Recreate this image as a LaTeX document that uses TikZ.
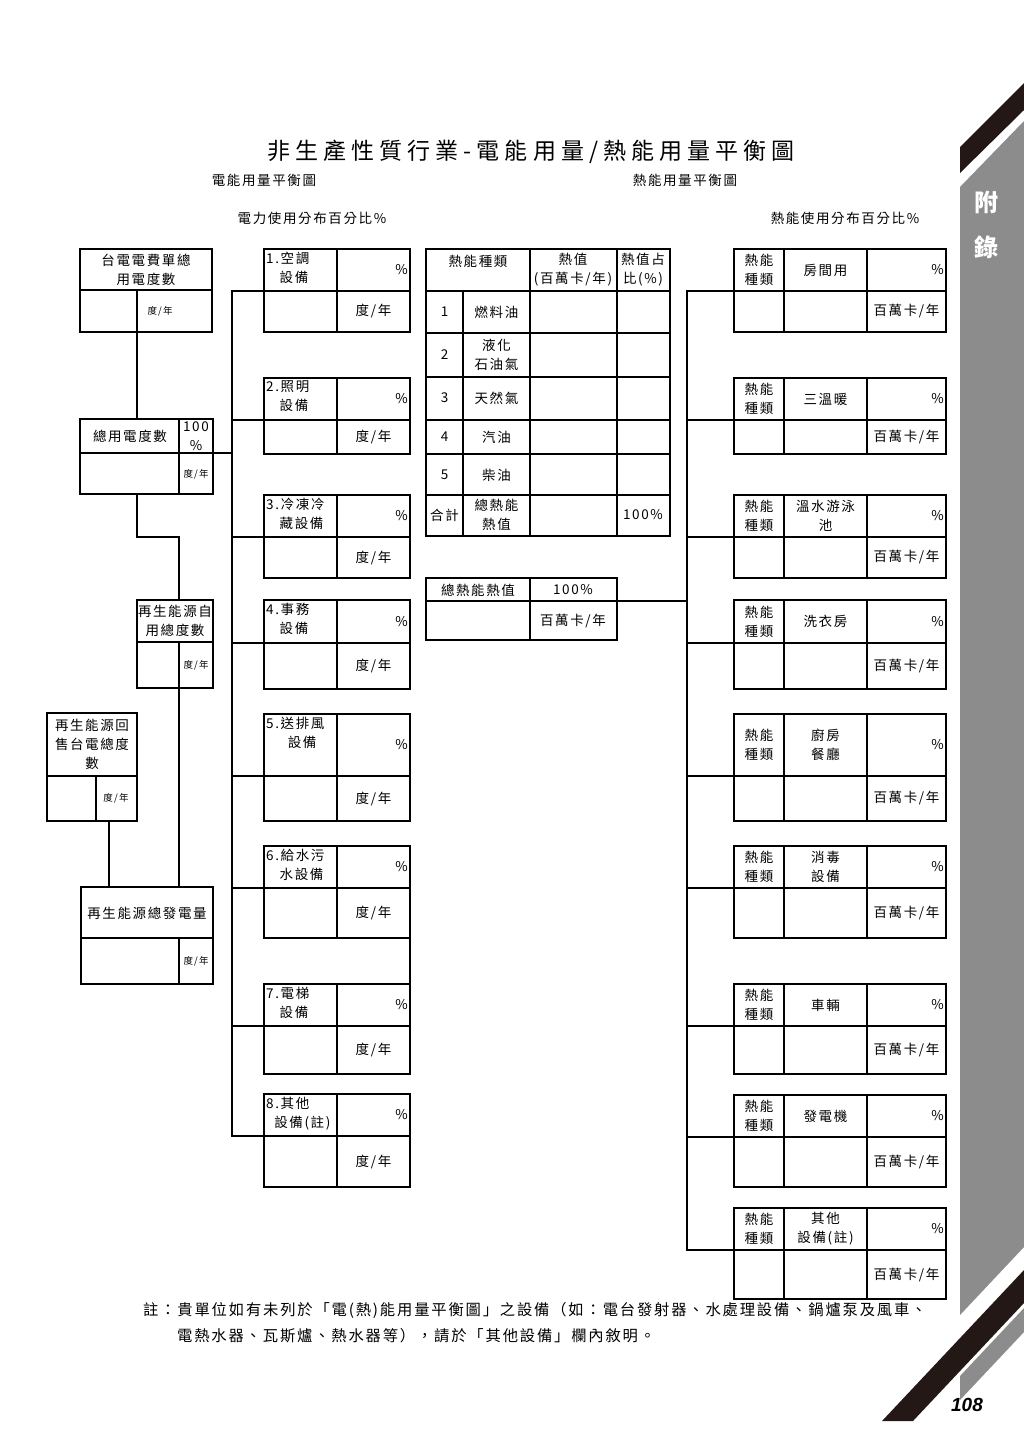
\documentclass[tikz,border=0pt]{standalone}
\usepackage{fontspec}
\setmainfont{Noto Sans CJK TC}[LetterSpace=12]
\newfontfamily\titlefont{Noto Sans CJK TC}[LetterSpace=22]
\newfontfamily\pagefont{Liberation Sans}
\definecolor{barGray}{HTML}{8C8C8C}
\definecolor{bandBlack}{HTML}{231815}
\begin{document}
\begin{tikzpicture}
[x=1pt,y=-1pt,
  boxLine/.style={line width=1.6pt},%
  thinBox/.style={line width=1.2pt},%
  darkLine/.style={line width=2.6pt,line cap=rect},%
  cellText/.style={font=\fontsize{13.5}{19}\selectfont,align=center,inner sep=0pt},%
  smallText/.style={font=\fontsize{9.5}{11}\selectfont,inner sep=0pt},%
  headText/.style={font=\fontsize{13.5}{16}\selectfont,inner sep=0pt}]
\useasboundingbox (0,0) rectangle (1024,1447);
%% page decoration
\fill[bandBlack] (960,147) -- (1024,83) -- (1024,110) -- (960,173) -- cycle;
\fill[barGray] (960,187) -- (1024,121) -- (1024,1247) -- (960,1315) -- cycle;
\fill[bandBlack] (882,1421) -- (913,1421) -- (1024,1303) -- (1024,1270) -- cycle;
\fill[barGray] (960,1376) -- (1024,1308) -- (1024,1332) -- (960,1400) -- cycle;
\node[font=\fontsize{24}{24}\selectfont\bfseries,text=white] (appxA) at (986,202) {附};
\node[font=\fontsize{24}{24}\selectfont\bfseries,text=white] (appxB) at (986,247) {錄};
\node[font=\pagefont\fontsize{19}{19}\selectfont\bfseries\itshape] (pageNo) at (967,1405) {108};
%% titles
\node[font=\titlefont\fontsize{23}{23}\selectfont] (title) at (531,152) {非生產性質行業-電能用量/熱能用量平衡圖};
\node[headText] (elecTitle) at (264,180) {電能用量平衡圖};
\node[headText] (heatTitle) at (685,180) {熱能用量平衡圖};
\node[headText] (elecShare) at (312,218) {電力使用分布百分比\%};
\node[headText] (heatShare) at (845,218) {熱能使用分布百分比\%};
%% meter boxes (left)
\draw[thinBox] (80,249) rectangle (212,332) (80,290) -- (212,290) (137,290) -- (137,332);
\node[cellText] (twBill) at (146,270) {台電電費單總\\用電度數};
\node[smallText] (twBillUnit) at (160,311) {度/年};
\coordinate (twBillOut) at (137,332);
\draw[thinBox] (80,419) rectangle (213,494) (80,453) -- (213,453) (179,419) -- (179,494);
\node[cellText] (total) at (130,436) {總用電度數};
\node[cellText] (totalPct) at (196,436) {100\\\%};
\node[smallText] (totalUnit) at (196,474) {度/年};
\coordinate (totalIn) at (137,419);
\coordinate (totalEast) at (213,453);
\coordinate (totalOut) at (137,494);
\draw[thinBox] (137,600) rectangle (213,688) (137,642) -- (213,642) (179,642) -- (179,688);
\node[cellText] (selfUse) at (175,621) {再生能源自\\用總度數};
\node[smallText] (selfUseUnit) at (196,665) {度/年};
\coordinate (selfUseIn) at (179,600);
\coordinate (selfUseOut) at (179,688);
\draw[thinBox] (47,713) rectangle (137,821) (47,776) -- (137,776) (96,776) -- (96,821);
\node[cellText] (sellBack) at (92,744) {再生能源回\\售台電總度\\數};
\node[smallText] (sellBackUnit) at (116,798) {度/年};
\coordinate (sellBackOut) at (109,821);
\draw[thinBox] (81,887) rectangle (213,984) (81,938) -- (213,938) (179,938) -- (179,984);
\node[cellText] (renewGen) at (147,913) {再生能源總發電量};
\node[smallText] (renewGenUnit) at (196,961) {度/年};
\coordinate (renewGenInA) at (179,887);
\coordinate (renewGenInB) at (109,887);
%% equipment boxes (electric)
\foreach \n/\yt/\ym/\yb/\lbl in {1/249/291/332/{1.空調\\\hspace*{1em}設備},
  2/378/420/454/{2.照明\\\hspace*{1em}設備}, 3/495/537/578/{3.冷凍冷\\\hspace*{1em}藏設備},
  4/600/643/689/{4.事務\\\hspace*{1em}設備}, 5/714/776/821/{5.送排風\\\hspace*{1.6em}設備},
  6/846/888/938/{6.給水污\\\hspace*{1em}水設備}, 7/984/1026/1074/{7.電梯\\\hspace*{1em}設備},
  8/1094/1136/1187/{8.其他\\\hspace*{0.6em}設備(註)}}
{
  \draw[boxLine] (264,\yt) rectangle (410,\yb) (264,\ym) -- (410,\ym) (337,\yt) -- (337,\yb);
  \node[cellText,align=left,anchor=north west] (equip\n) at (266,\yt+3) {\lbl};
  \node[cellText,anchor=east] (equipPct\n) at (408,{(\yt+\ym)/2}) {\%};
  \node[cellText] (equipUnit\n) at (373.5,{(\ym+\yb)/2}) {度/年};
  \coordinate (equipIn\n) at (264,\ym);
}
\draw[boxLine] (410,938) -- (410,984);
%% heat source table (middle)
\draw[thinBox] (426,249) rectangle (670,536);
\foreach \y in {291,333,377,420,454,495}
{
  \draw[thinBox] (426,\y) -- (670,\y);
}
\draw[thinBox] (463,291) -- (463,536) (530,249) -- (530,536) (617,249) -- (617,536);
\node[cellText] (fuelHead) at (478,261) {熱能種類};
\node[cellText] (valueHead) at (573,270) {熱值\\(百萬卡/年)};
\node[cellText] (shareHead) at (643,270) {熱值占\\比(\%)};
\foreach \n/\y/\lbl in {1/312/燃料油, 2/355/{液化\\石油氣}, 3/398/天然氣, 4/437/汽油, 5/475/柴油, 合計/515/{總熱能\\熱值}}
{
  \node[cellText] (fuelNo\n) at (444.5,\y) {\n};
  \node[cellText] (fuel\n) at (496.5,\y) {\lbl};
}
\node[cellText] (fuelTotalPct) at (643,515) {100\%};
\draw[thinBox] (426,578) rectangle (617,640) (426,601) -- (617,601) (530,578) -- (530,640);
\node[cellText] (heatTotal) at (478,590) {總熱能熱值};
\node[cellText] (heatTotalPct) at (573,590) {100\%};
\node[cellText] (heatTotalUnit) at (573,621) {百萬卡/年};
\coordinate (heatTotalOut) at (617,601);
%% heat use boxes (right)
\foreach \n/\yt/\ym/\yb/\lbl in {1/249/291/332/房間用, 2/378/420/454/三溫暖,
  3/495/537/578/{溫水游泳\\池}, 4/600/643/689/洗衣房, 5/714/776/821/{廚房\\餐廳},
  6/846/888/938/{消毒\\設備}, 7/984/1026/1074/車輛, 8/1095/1137/1187/發電機,
  9/1208/1250/1299/{其他\\設備(註)}}
{
  \draw[boxLine] (734,\yt) rectangle (946,\yb) (734,\ym) -- (946,\ym)
    (784,\yt) -- (784,\yb) (867,\yt) -- (867,\yb);
  \node[cellText] (heatKind\n) at (759,{(\yt+\ym)/2}) {熱能\\種類};
  \node[cellText] (heatUse\n) at (825.5,{(\yt+\ym)/2}) {\lbl};
  \node[cellText,anchor=east] (heatPct\n) at (944,{(\yt+\ym)/2}) {\%};
  \node[cellText] (heatUnit\n) at (906.5,{(\ym+\yb)/2}) {百萬卡/年};
  \coordinate (heatIn\n) at (734,\ym);
}
%% electric connectors
\coordinate (elecBus) at (232,291);
\draw[darkLine] (twBillOut) -- (totalIn);
\draw[darkLine] (totalOut) -- ++(0,43) -| (selfUseIn);
\draw[darkLine] (selfUseOut) -- (renewGenInA);
\draw[darkLine] (sellBackOut) -- (renewGenInB);
\draw[darkLine] (totalEast) -- (totalEast -| elecBus);
\draw[darkLine] (equipIn1) -- (equipIn1 -| elecBus) -- (equipIn8 -| elecBus) -- (equipIn8);
\foreach \n in {2,...,7}
{
  \draw[darkLine] (equipIn\n -| elecBus) -- (equipIn\n);
}
%% heat connectors
\coordinate (heatBus) at (687,291);
\draw[darkLine] (heatIn1) -- (heatIn1 -| heatBus) -- (heatIn9 -| heatBus) -- (heatIn9);
\foreach \n in {2,...,8}
{
  \draw[darkLine] (heatIn\n -| heatBus) -- (heatIn\n);
}
\draw[darkLine] (heatTotalOut) -- (heatTotalOut -| heatBus);
%% note
\node[font=\fontsize{15.3}{17}\selectfont,anchor=west,inner sep=0pt] (noteA) at (143,1310)
  {註：貴單位如有未列於「電(熱)能用量平衡圖」之設備（如：電台發射器、水處理設備、鍋爐泵及風車、};
\node[font=\fontsize{15.3}{17}\selectfont,anchor=west,inner sep=0pt] (noteB) at (177,1336)
  {電熱水器、瓦斯爐、熱水器等），請於「其他設備」欄內敘明。};
\end{tikzpicture}
\end{document}
